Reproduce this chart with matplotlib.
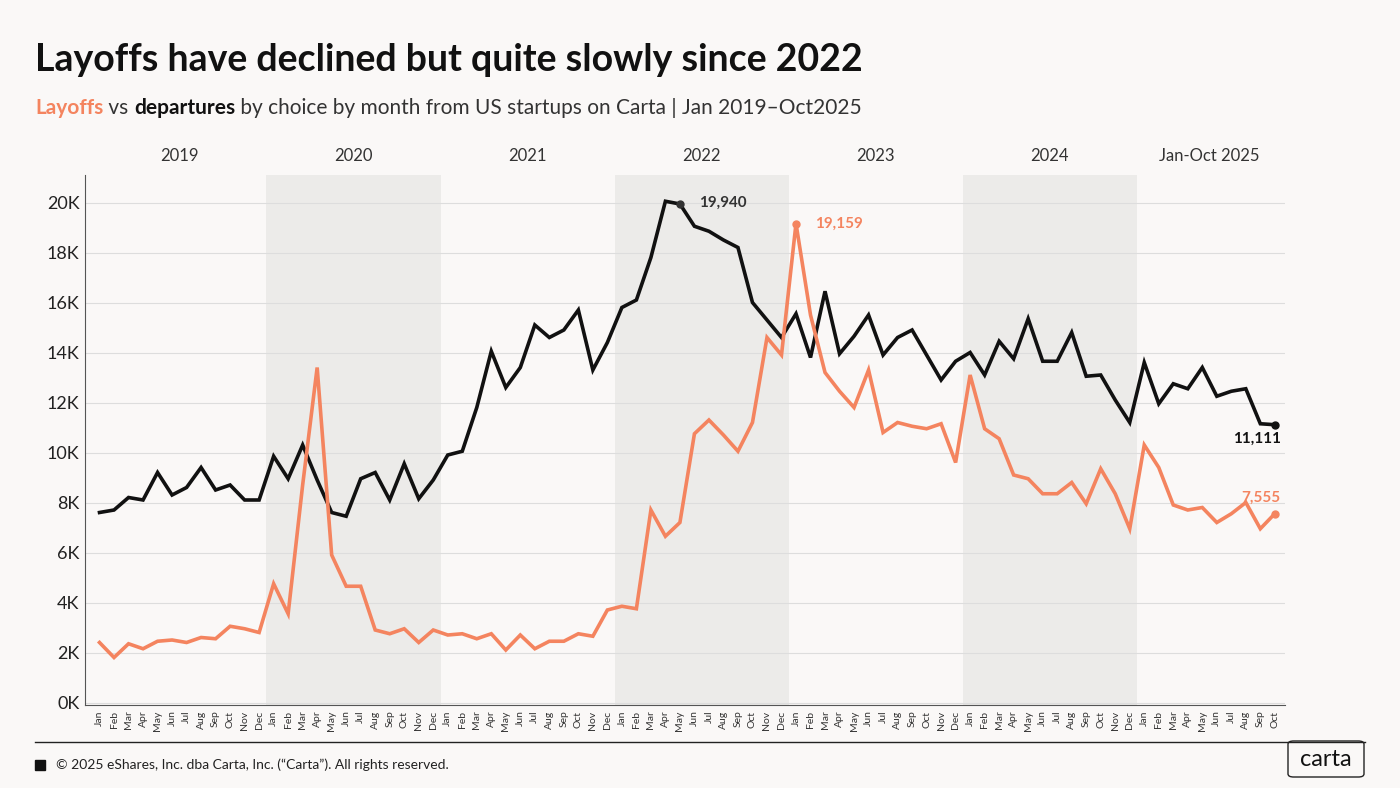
import numpy as np
import matplotlib.pyplot as plt
from matplotlib.patches import Rectangle, FancyBboxPatch

plt.rcParams['font.family'] = ['Lato', 'DejaVu Sans']

months = ['Jan', 'Feb', 'Mar', 'Apr', 'May', 'Jun', 'Jul', 'Aug', 'Sep', 'Oct', 'Nov', 'Dec']
years = ['2019', '2020', '2021', '2022', '2023', '2024', 'Jan-Oct 2025']
shaded_years = [1, 3, 5]

departures = [7600, 7700, 8200, 8100, 9200, 8300, 8600, 9400, 8500, 8700, 8100, 8100,
              9850, 8950, 10300, 8900, 7600, 7450, 8950, 9200, 8100, 9550, 8150, 8900,
              9900, 10050, 11800, 14050, 12600, 13400, 15100, 14600, 14900, 15700, 13300, 14400,
              15800, 16100, 17800, 20050, 19940, 19050, 18850, 18500, 18200, 16000, 15300, 14600,
              15550, 13800, 16450, 13950, 14650, 15500, 13900, 14600, 14900, 13900, 12900, 13650,
              14000, 13100, 14450, 13750, 15350, 13650, 13650, 14800, 13050, 13100, 12100, 11200,
              13600, 11950, 12750, 12550, 13400, 12250, 12450, 12550, 11150, 11111]
layoffs = [2400, 1800, 2350, 2150, 2450, 2500, 2400, 2600, 2550, 3050, 2950, 2800,
           4750, 3550, 8700, 13400, 5900, 4650, 4650, 2900, 2750, 2950, 2400, 2900,
           2700, 2750, 2550, 2750, 2100, 2700, 2150, 2450, 2450, 2750, 2650, 3700,
           3850, 3750, 7700, 6650, 7200, 10750, 11300, 10700, 10050, 11200, 14600, 13900,
           19159, 15500, 13200, 12450, 11800, 13300, 10800, 11200, 11050, 10950, 11150, 9600,
           13100, 10950, 10550, 9100, 8950, 8350, 8350, 8800, 7950, 9350, 8350, 6950,
           10300, 9400, 7900, 7700, 7800, 7200, 7550, 8000, 6950, 7555]

n = len(departures)
x = np.arange(n)
labels = (months * 7)[:n]

bg = '#faf8f7'
orange = '#f4845f'
dark = '#111111'

fig = plt.figure(figsize=(14, 7.88), dpi=100, facecolor=bg)
ax = fig.add_axes([85 / 1400, 1 - 705 / 788, 1200 / 1400, 530 / 788])
ax.set_facecolor(bg)

for yi in shaded_years:
    ax.axvspan(yi * 12 - 0.5, yi * 12 + 11.5, color='#ecebe9', zorder=0, lw=0)
for i, yl in enumerate(years):
    end = min(i * 12 + 11, n - 1)
    ax.text((i * 12 + end) / 2, 1.02, yl, transform=ax.get_xaxis_transform(),
            ha='center', va='bottom', fontsize=12, color='#333333')

ax.plot(x, departures, color=dark, lw=2.6, zorder=3, solid_joinstyle='miter')
ax.plot(x, layoffs, color=orange, lw=2.6, zorder=3, solid_joinstyle='miter')

# callouts
ax.plot(40, departures[40], 'o', color='#333333', ms=5, zorder=4)
ax.text(41.3, departures[40] + 50, '19,940', fontsize=11, fontweight='bold', color='#333333', va='center')
ax.plot(48, layoffs[48], 'o', color=orange, ms=5, zorder=4)
ax.text(49.3, layoffs[48], '19,159', fontsize=11, fontweight='bold', color=orange, va='center')
ax.plot(n - 1, departures[-1], 'o', color=dark, ms=5, zorder=4)
ax.text(n - 0.6, departures[-1] - 300, '11,111', fontsize=11, fontweight='bold', color=dark, ha='right', va='top')
ax.plot(n - 1, layoffs[-1], 'o', color=orange, ms=5, zorder=4)
ax.text(n - 0.6, 7900, '7,555', fontsize=11, fontweight='bold', color=orange, ha='right', va='bottom')

ax.set_xlim(-1.0, n - 0.3)
ax.set_ylim(-100, 21100)
ax.set_yticks(range(0, 20001, 2000))
ax.set_yticklabels([f'{v // 1000}K' for v in range(0, 20001, 2000)], fontsize=13, color='#222222')
ax.set_xticks(x)
ax.set_xticklabels(labels, rotation=90, fontsize=7.5, color='#333333')
ax.tick_params(length=0, pad=4)
ax.grid(axis='y', color='#dddddd', lw=0.8, zorder=1)
for s in ['top', 'right']:
    ax.spines[s].set_visible(False)
ax.spines['left'].set_color('#555555')
ax.spines['bottom'].set_color('#555555')

fig.text(35 / 1400, 1 - 60 / 788, 'Layoffs have declined but quite slowly since 2022',
         fontsize=27, fontweight='bold', color='#111111', va='center')
t1 = fig.text(35 / 1400, 1 - 108 / 788, 'Layoffs', fontsize=15, fontweight='bold', color=orange, va='center')
fig.canvas.draw()
r = fig.canvas.get_renderer()
def after(t, s, **kw):
    bb = t.get_window_extent(r)
    return fig.text(bb.x1 / 1400, 1 - 108 / 788, s, fontsize=15, va='center', **kw)
t2 = after(t1, ' vs ', color='#333333')
t3 = after(t2, 'departures', color='#111111', fontweight='bold')
after(t3, ' by choice by month from US startups on Carta | Jan 2019–Oct2025', color='#333333')

fig.add_artist(plt.Line2D([35 / 1400, 1365 / 1400], [1 - 742 / 788] * 2, color='#222222', lw=1))
fig.add_artist(Rectangle((35 / 1400, 1 - 770 / 788), 10 / 1400, 10 / 788, color='#111111'))
fig.text(56 / 1400, 1 - 765 / 788, '© 2025 eShares, Inc. dba Carta, Inc. (“Carta”). All rights reserved.',
         fontsize=10, color='#222222', va='center')
fig.add_artist(FancyBboxPatch((1288 / 1400, 1 - 777 / 788), 76 / 1400, 36 / 788,
                              boxstyle='round,pad=0,rounding_size=0.004', fc='none', ec='#222222', lw=1))
fig.text(1326 / 1400, 1 - 759 / 788, 'carta', fontsize=17, color='#111111', ha='center', va='center')

fig.savefig('out.png', dpi=100, facecolor=bg)
